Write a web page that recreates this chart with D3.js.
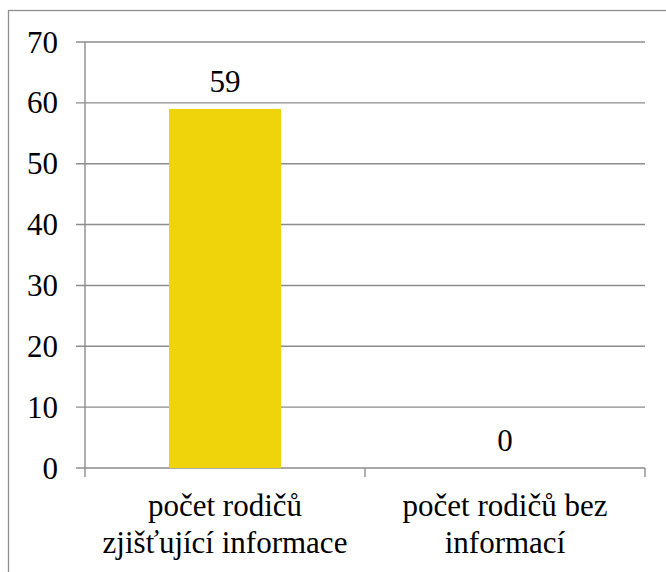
<!DOCTYPE html>
<meta charset="utf-8">
<body style="margin:0">
<script src="https://cdnjs.cloudflare.com/ajax/libs/d3/7.8.5/d3.min.js"></script>
<script>
var categories = [["počet rodičů", "zjišťující informace"], ["počet rodičů bez", "informací"]];
var values = [59, 0];
var yTicks = [0, 10, 20, 30, 40, 50, 60, 70];

var width = 666, height = 572;
var plotLeft = 85, plotRight = 645, plotTop = 42, plotBottom = 468;
var gridColor = "#8c8c8c";

var svg = d3.select("body").append("svg")
  .attr("width", width)
  .attr("height", height);

// outer chart border (runs off the right and bottom edge)
svg.append("rect")
  .attr("x", 8.5).attr("y", 10.5)
  .attr("width", 720).attr("height", 640)
  .attr("fill", "none")
  .attr("stroke", "#8f8f8f")
  .attr("stroke-width", 1.3);

var x = d3.scaleBand()
  .domain(d3.range(categories.length))
  .range([plotLeft, plotRight])
  .padding(0);

var y = d3.scaleLinear()
  .domain([0, 70])
  .range([plotBottom, plotTop]);

// gridlines
svg.append("g")
  .selectAll("line")
  .data(yTicks)
  .enter().append("line")
  .attr("x1", plotLeft - 9)
  .attr("x2", plotRight)
  .attr("y1", function(d) { return y(d); })
  .attr("y2", function(d) { return y(d); })
  .attr("stroke", gridColor)
  .attr("stroke-width", 1.4);

// y axis line
svg.append("line")
  .attr("x1", plotLeft).attr("x2", plotLeft)
  .attr("y1", plotTop).attr("y2", plotBottom + 9)
  .attr("stroke", gridColor)
  .attr("stroke-width", 1.4);

// x axis tick marks at band edges
var edges = categories.map(function(c, i) { return x(i) + x.bandwidth(); });
svg.append("g")
  .selectAll("line")
  .data(edges)
  .enter().append("line")
  .attr("x1", function(d) { return d; })
  .attr("x2", function(d) { return d; })
  .attr("y1", plotBottom)
  .attr("y2", plotBottom + 9)
  .attr("stroke", gridColor)
  .attr("stroke-width", 1.4);

// bars
var barW = x.bandwidth() * 0.4;
svg.append("g")
  .selectAll("rect")
  .data(values)
  .enter().append("rect")
  .attr("x", function(d, i) { return x(i) + (x.bandwidth() - barW) / 2; })
  .attr("y", function(d) { return y(d); })
  .attr("width", barW)
  .attr("height", function(d) { return plotBottom - y(d); })
  .attr("fill", "#EFD30B");

var textStyle = "font: 31px 'Liberation Serif', 'Times New Roman', Tinos, serif; fill: #000";

// y tick labels
svg.selectAll("text.ytick")
  .data(yTicks)
  .enter().append("text")
  .attr("class", "ytick")
  .attr("x", 58)
  .attr("y", function(d) { return y(d) + 10.5; })
  .attr("text-anchor", "end")
  .attr("style", textStyle)
  .text(function(d) { return d; });

// value labels
svg.selectAll("text.val")
  .data(values)
  .enter().append("text")
  .attr("class", "val")
  .attr("x", function(d, i) { return x(i) + x.bandwidth() / 2; })
  .attr("y", function(d) { return y(d) - 17; })
  .attr("text-anchor", "middle")
  .attr("style", textStyle)
  .text(function(d) { return d; });

// category labels, one text per line
var lines = [];
categories.forEach(function(c, i) {
  c.forEach(function(s, j) { lines.push({ s: s, i: i, j: j }); });
});
svg.selectAll("text.cat")
  .data(lines)
  .enter().append("text")
  .attr("class", "cat")
  .attr("x", function(d) { return x(d.i) + x.bandwidth() / 2; })
  .attr("y", function(d) { return 516 + d.j * 37; })
  .attr("text-anchor", "middle")
  .attr("style", textStyle)
  .text(function(d) { return d.s; });
</script>
</body>
